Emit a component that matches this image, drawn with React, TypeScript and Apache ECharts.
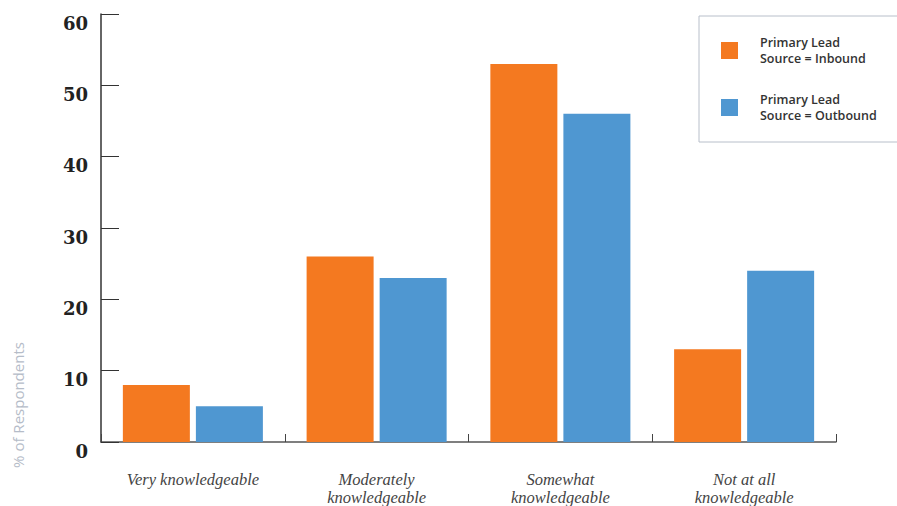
import React, { useEffect, useRef } from "react";
import * as echarts from "echarts";

const categories = ["Very knowledgeable", "Moderately\nknowledgeable", "Somewhat\nknowledgeable", "Not at all\nknowledgeable"];
const inboundValues = [8, 26, 53, 13];
const outboundValues = [5, 23, 46, 24];
const seriesNames = ["Primary Lead\nSource = Inbound", "Primary Lead\nSource = Outbound"];
const yTicks = { min: 0, max: 60, interval: 10 };
const yAxisTitle = "% of Respondents";

export default function App() {
  const ref = useRef<HTMLDivElement>(null);
  useEffect(() => {
    const chart = echarts.init(ref.current!, null, { renderer: "svg" });
    chart.setOption({
      animation: false,
      backgroundColor: "#ffffff",
      grid: { left: 101, right: 61, top: 14, bottom: 63, containLabel: false },
      legend: {
        orient: "vertical",
        left: 699,
        top: 16,
        padding: [18, 50, 18, 22],
        itemGap: 24,
        itemWidth: 17,
        itemHeight: 17,
        borderColor: "#b8bfca",
        borderWidth: 1,
        icon: "rect",
        textStyle: {
          fontFamily: "Open Sans",
          fontWeight: 600,
          fontSize: 12.5,
          lineHeight: 16.5,
          color: "#333333",
          padding: [0, 0, 0, 17],
        },
        data: seriesNames,
      },
      xAxis: {
        type: "category",
        data: categories,
        axisLine: { lineStyle: { color: "#555555", width: 1.5 } },
        axisTick: { show: true, interval: 0, inside: true, length: 8, lineStyle: { color: "#444444", width: 1 } },
        axisLabel: {
          interval: 0,
          margin: 28,
          verticalAlign: "top",
          fontFamily: "Liberation Serif",
          fontStyle: "italic",
          fontSize: 16.5,
          lineHeight: 18,
          color: "#444444",
        },
      },
      yAxis: {
        type: "value",
        min: yTicks.min,
        max: yTicks.max,
        interval: yTicks.interval,
        splitLine: { show: false },
        axisLine: { show: true, lineStyle: { color: "#333333", width: 1.5 } },
        axisTick: { show: true, inside: true, length: 18, lineStyle: { color: "#333333" } },
        axisLabel: {
          margin: 13,
          fontFamily: "DejaVu Serif",
          fontWeight: "bold",
          fontSize: 18,
          color: "#222222",
          verticalAlign: "top",
        },
      },
      graphic: [
        {
          type: "text",
          x: 18,
          y: 405,
          rotation: Math.PI / 2,
          style: {
            text: yAxisTitle,
            fontFamily: "Open Sans",
            fontSize: 15,
            fill: "#b5bcc8",
            align: "center",
            verticalAlign: "middle",
          },
        },
      ],
      series: [
        {
          name: seriesNames[0],
          type: "bar",
          data: inboundValues,
          barWidth: 67,
          barGap: "9%",
          itemStyle: { color: "#f47920" },
        },
        {
          name: seriesNames[1],
          type: "bar",
          data: outboundValues,
          barWidth: 67,
          barGap: "9%",
          itemStyle: { color: "#4f97d1" },
        },
      ],
    });
    return () => chart.dispose();
  }, []);
  return <div ref={ref} style={{ position: "fixed", left: 0, top: 0, width: 897, height: 506 }} />;
}
